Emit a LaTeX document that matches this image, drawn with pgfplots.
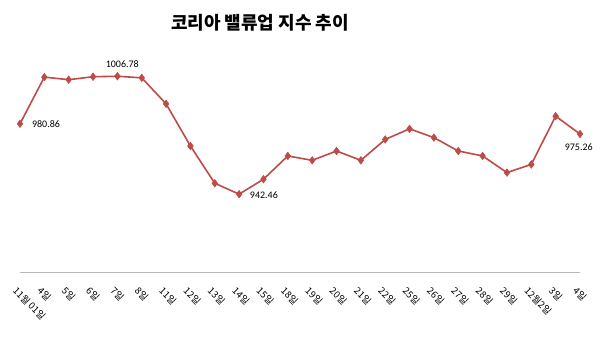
\documentclass[border=0pt]{standalone}
\usepackage{pgfplots}
\pgfplotsset{compat=1.18}
\usepackage{fontspec}
\setmainfont{Noto Sans CJK KR}
\newfontfamily\numfont{Carlito}
\definecolor{linered}{HTML}{BE4B48}
\begin{document}
\begin{tikzpicture}[x=1pt,y=1pt]
\useasboundingbox (0,0) rectangle (600,337);
\node[font=\fontsize{18}{20}\selectfont\bfseries] at (260,314) {코리아 밸류업 지수 추이};
\begin{axis}[
  at={(20pt,65pt)}, anchor=south west,
  scale only axis, width=560pt, height=220pt,
  xmin=0, xmax=23, ymin=900, ymax=1020,
  axis x line*=bottom, axis y line=none,
  x axis line style={draw=gray!55, line width=0.8pt, -},
  xtick={0,...,23}, xtick style={draw=none},
  xticklabels={11월 01일,4일,5일,6일,7일,8일,11일,12일,13일,14일,15일,18일,19일,20일,21일,22일,25일,26일,27일,28일,29일,12월2일,3일,4일},
  xticklabel style={yshift=-14pt, xshift=-2pt, rotate=-45, anchor=north west, font=\fontsize{9.5}{10}\selectfont, inner sep=0pt},
  ytick=\empty,
  clip=false,
]
\addplot[color=linered, line width=1.6pt, mark=diamond*, mark size=3.8pt, mark options={fill=linered, draw=linered, line width=0.5pt}] coordinates {
(0,980.86) (1,1006.3) (2,1004.9) (3,1006.5) (4,1006.78) (5,1005.9)
(6,991.7) (7,968.7) (8,948.4) (9,942.46) (10,950.6) (11,963.3)
(12,960.9) (13,966.0) (14,960.9) (15,972.3) (16,978.1) (17,973.3)
(18,966.0) (19,963.3) (20,954.2) (21,958.7) (22,985.0) (23,975.26)
};
\node[anchor=west, font=\numfont\fontsize{10}{12}\selectfont] at (axis cs:0.35,980.5) {980.86};
\node[anchor=south, font=\numfont\fontsize{10}{12}\selectfont] at (axis cs:4.2,1009.5) {1006.78};
\node[anchor=west, font=\numfont\fontsize{10}{12}\selectfont] at (axis cs:9.3,941.8) {942.46};
\node[anchor=north, font=\numfont\fontsize{10}{12}\selectfont] at (axis cs:22.95,971.8) {975.26};
\end{axis}
\end{tikzpicture}
\end{document}
